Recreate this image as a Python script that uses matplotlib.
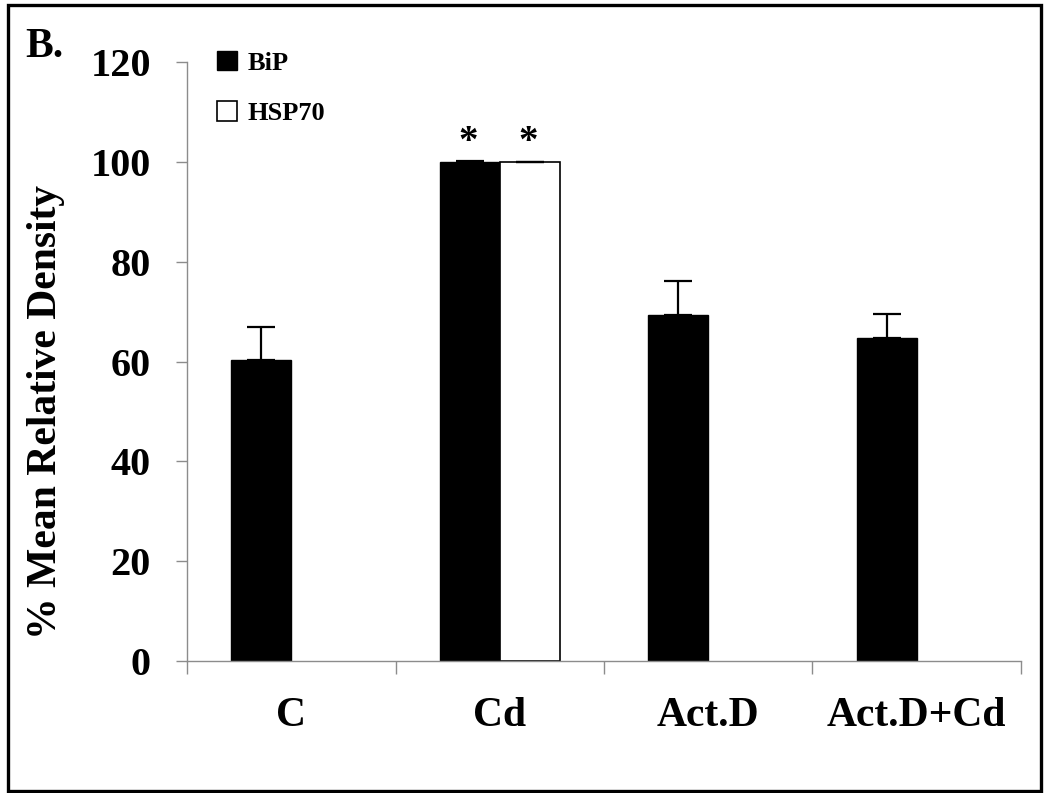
import numpy as np
import matplotlib
matplotlib.use("Agg")
import matplotlib.pyplot as plt
from matplotlib.patches import Rectangle

categories = ["C", "Cd", "Act.D", "Act.D+Cd"]
bip = [60.4, 100.0, 69.4, 64.8]
bip_err = [6.6, 0.2, 6.8, 4.8]
hsp70 = [np.nan, 100.0, np.nan, np.nan]
hsp70_err = [np.nan, 0.0, np.nan, np.nan]
stars = [("Cd", "bip"), ("Cd", "hsp70")]

plt.rcParams['font.family'] = ['Liberation Serif', 'DejaVu Serif']
plt.rcParams['font.weight'] = 'bold'

fig = plt.figure(figsize=(10.48, 7.93), dpi=100)
ax = fig.add_axes([187 / 1048, 1 - 661 / 793, (1021 - 187) / 1048, (661 - 62) / 793])

x = np.arange(len(categories))
w = 0.288
err_kw = dict(ecolor='black', elinewidth=1.6, capsize=10, capthick=1.6)
ax.bar(x - w / 2, bip, w, color='black', edgecolor='black', linewidth=1,
       yerr=[np.zeros(len(bip)), bip_err], error_kw=err_kw, label='BiP')
ax.bar(x + w / 2, hsp70, w, color='white', edgecolor='black', linewidth=1.2,
       yerr=[np.zeros(len(hsp70)), hsp70_err], error_kw=err_kw, label='HSP70')

# significance marks
for cat, series in stars:
    i = categories.index(cat)
    xs = i - w / 2 if series == "bip" else i + w / 2
    ax.text(xs - 0.01, 100.1, "*", ha='center', va='bottom', fontsize=28, fontweight='bold')

ax.set_xlim(-0.5, len(categories) - 0.5)
ax.set_ylim(0, 120)
ax.set_yticks(np.arange(0, 121, 20))
ax.set_xticks(np.arange(-0.5, len(categories), 1.0))
ax.set_xticklabels([])
ax.set_xticks(x, minor=True)
ax.set_xticklabels(categories, minor=True, fontsize=30, fontweight='bold')
ax.tick_params(axis='x', which='minor', length=0, pad=26)
ax.tick_params(axis='x', which='major', length=9, width=1, color='#8c8c8c', direction='out')
ax.tick_params(axis='y', length=8, width=1, color='#8c8c8c', labelsize=29, pad=18)
for lab in ax.get_yticklabels():
    lab.set_fontweight('bold')

for s in ['top', 'right']:
    ax.spines[s].set_visible(False)
for s in ['left', 'bottom']:
    ax.spines[s].set_color('#8c8c8c')
    ax.spines[s].set_linewidth(1)

ax.set_ylabel("% Mean Relative Density", fontsize=30, fontweight='bold')
ax.yaxis.set_label_coords((65 - 187) / 834, (661 - 412) / 599)

ax.legend(loc='upper left', bbox_to_anchor=(217 / 1048, 1 - 51 / 793),
          bbox_transform=fig.transFigure, frameon=False, fontsize=19,
          handlelength=0.75, handleheight=0.75, handletextpad=0.4,
          labelspacing=1.0, borderpad=0, borderaxespad=0)

fig.text(25 / 1048, 1 - 57 / 793, "B.", fontsize=30, fontweight='bold', ha='left', va='baseline')

fig.patches.append(Rectangle((0.008, 0.003), 0.985, 0.991, transform=fig.transFigure,
                             fill=False, edgecolor='black', linewidth=2.4, clip_on=False))

fig.savefig("out.png", dpi=100)
